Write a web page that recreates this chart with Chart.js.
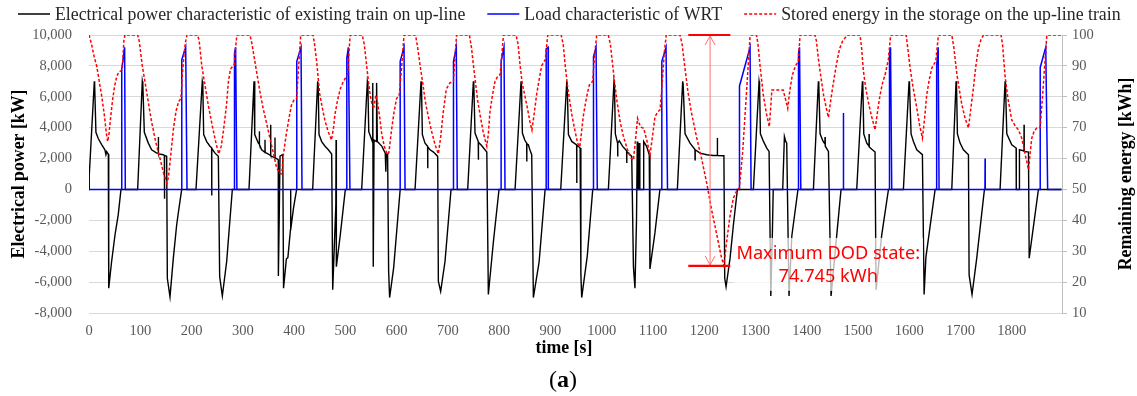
<!DOCTYPE html>
<html>
<head>
<meta charset="utf-8">
<script src="https://cdn.jsdelivr.net/npm/chart.js@4.4.1/dist/chart.umd.min.js"></script>
<style>
  html, body { margin: 0; padding: 0; background: #fff; }
  #wrap { position: relative; width: 1137px; height: 396px; }
  #caption { position: absolute; left: 0; width: 1126px; top: 366px; text-align: center; line-height: 1;
             font: 24px "Liberation Serif", "Times New Roman", serif; color: #000; }
</style>
</head>
<body>
<div id="wrap">
  <canvas id="chart"></canvas>
  <div id="caption">(<b>a</b>)</div>
</div>
<script>
// Up-line train power / WRT load / on-board storage energy over one run

// --- Series: [time s, value] ---
const powerSeries = [
  [0,0],[0.5,900],[10.4,7000],[11,6800],[13.5,3700],[18,3300],[24.7,2900],[31,2570],[33,2250],[34.5,2450],[37,2300],[37.7,2300],[38.5,-6400],[44,-4700],[50.7,-2950],[57,-1650],[62.4,0],
  [94.9,0],[104,7000],[105,6800],[107.9,3700],[115.7,3000],[122.2,2570],[132,2350],[135,2350],[135.3,3400],[135.6,2300],[145,2250],[147,2200],[147.2,-600],[147.5,2200],[151.5,2150],[152.8,-5750],[158,-6950],[164.5,-4450],[171,-2300],[174.3,-1500],[180.8,0],
  [208.7,0],[221,7000],[222,6800],[223.7,3550],[229.6,3100],[236,2800],[239.2,2700],[239.4,-400],[239.6,2650],[245.8,2350],[252.3,2150],[254.9,-5650],[260.1,-6900],[268.6,-4650],[279.6,0],
  [312.1,0],[321.9,7000],[322.8,6800],[323.8,3550],[330.3,3000],[332,2950],[332.3,3760],[332.6,2900],[336.8,2570],[343,2400],[343.3,3220],[343.6,2380],[346.6,2350],[354.2,2200],[354.4,4190],[354.6,2180],[362.6,2050],[362.8,3370],[363,2040],[366.1,1990],[369.2,1920],[369.4,-5600],[371,-2000],[372.6,2150],[377.2,2250],[378,2200],[379.5,-6400],[385,-4500],[388,-4400],[393,-2600],[393.3,0],[393.6,-2600],[399,-1200],[405,0],
  [436.3,0],[446.1,7000],[447,6800],[448.7,3550],[453.9,3100],[460.4,2800],[466.9,2570],[473.4,2290],[475.4,-6500],[481.5,-1000],[482,3200],[482.5,-5000],[490,-3000],[500,0],
  [531.9,0],[543,7000],[544,6800],[545.7,3750],[551.5,3220],[553.3,3050],[553.5,6900],[554.5,-5000],[556,3200],[560.5,3100],[561,6900],[562.5,3100],[571.4,2790],[577.9,2350],[579,1150],[580,2300],[582.5,2290],[584.5,-5300],[586.4,-7000],[594.2,-5100],[607,0],
  [636,0],[647.7,7000],[648.5,6800],[650.3,3550],[655.5,3000],[660.5,2790],[660.7,1380],[661,2750],[665.3,2570],[672,2420],[680.2,2140],[681.5,-5950],[686,-6600],[694.5,-4650],[706.2,0],
  [738.7,0],[749.8,7000],[750.6,6800],[753,3650],[759.3,3110],[759.5,1920],[759.8,3050],[764.5,2890],[776,2420],[779,-6800],[788.8,-3400],[799.8,0],
  [831.1,0],[842.8,7000],[843.6,6800],[845.4,3650],[850,3200],[853.7,3000],[853.9,1810],[854.2,2950],[857,2890],[860,2570],[863.6,2250],[866.8,-7000],[878,-4700],[889.7,0],
  [920.2,0],[932,7000],[932.8,6800],[935.2,3550],[941.7,3110],[951.2,2890],[951.4,410],[951.7,2870],[955,2780],[958,2680],[959.5,-5500],[961.1,-7000],[972,-4300],[982.6,0],
  [1013.1,0],[1024.1,7000],[1025,6800],[1026.7,3600],[1031.1,3000],[1031.3,2140],[1031.6,3000],[1034.5,3150],[1041,2790],[1048.7,2500],[1048.9,1710],[1049.2,2450],[1055.4,2250],[1058.7,2140],[1062,-5000],[1065,-6400],[1068,-2000],[1069.5,3100],[1070.5,0],[1072.5,0],[1073,3000],[1074.5,0],[1081,0],[1082,3100],[1087.7,2790],[1092.9,2250],[1094.2,-5150],[1104,-2800],[1113.7,0],
  [1147.7,0],[1158.1,7000],[1159,6800],[1162.7,3600],[1172.4,3000],[1182,2580],[1182.2,1920],[1182.5,2570],[1191.9,2350],[1204.9,2250],[1217.9,2200],[1225.5,2200],[1225.7,3330],[1226,2200],[1238.5,2180],[1240.1,-5750],[1242.7,-6300],[1250.5,-4450],[1257,-2300],[1264.8,0],
  [1296,0],[1307.1,7000],[1308,6800],[1309.7,3600],[1315.6,3110],[1322.1,2680],[1326.6,2460],[1330,-6900],[1333,-2900],[1334.7,0],
  [1353.2,0],[1356.5,3430],[1359.1,3110],[1361,3000],[1365.5,-6900],[1371,-3000],[1383,0],
  [1413.1,0],[1422.8,7000],[1423.6,6800],[1426.1,3600],[1432,3110],[1435.5,2950],[1435.8,3400],[1436.2,2800],[1442.4,2460],[1447.5,-6900],[1458.6,-2960],[1467,0],
  [1497.6,0],[1508.7,7000],[1509.5,6800],[1511.3,3600],[1517.2,3000],[1521.5,2800],[1521.7,3590],[1522,2750],[1527,2600],[1533.3,2420],[1535.3,-6500],[1546.3,-2960],[1559.5,0],
  [1588.6,0],[1599.7,7000],[1600.5,6800],[1603.6,3600],[1608.2,3110],[1614.7,2570],[1625.7,2250],[1629,-6800],[1632.5,-4400],[1650.5,0],
  [1683,0],[1691.4,7000],[1692.2,6800],[1694,3600],[1699.2,3000],[1705.7,2570],[1715.5,2250],[1716.8,-5530],[1722.5,-6800],[1731.7,-4450],[1746.7,0],
  [1777.2,0],[1787,7000],[1787.8,6800],[1790.3,3600],[1800,2890],[1808.5,2680],[1808.8,0],[1814.5,0],[1815,2570],[1823.8,2500],[1824,4190],[1824.3,2460],[1832.6,2420],[1834,-4450],[1852,0],[1897,0]
];

const wrtSeries = [
  [0,0],[63.7,0],[63.9,7800],[69.5,9200],[70.8,0],
  [180.8,0],[181,8400],[188.6,9200],[191.2,0],
  [283.5,0],[283.8,8800],[286,9200],[288.5,0],
  [405.1,0],[405.3,8300],[413.6,9200],[415.5,0],
  [502.7,0],[502.9,8500],[506,9200],[509,0],
  [606.8,0],[607,8300],[614.5,9200],[616.5,0],
  [710.8,0],[711,8300],[716.5,9200],[718.3,0],
  [803.7,0],[803.9,8300],[809.5,9200],[811.5,0],
  [891.6,0],[891.8,9100],[895.5,9200],[896,0],
  [983.9,0],[984.1,8600],[989.1,9200],[991.5,0],
  [1117.2,0],[1117.4,8300],[1125.6,9200],[1128.5,0],
  [1268.7,0],[1268.9,6700],[1289.5,9200],[1291.5,0],
  [1383.8,0],[1384,8800],[1386,9200],[1388.5,0],
  [1471.3,0],[1471.6,4950],[1471.9,0],
  [1561.3,0],[1561.5,8800],[1563.5,9200],[1565.9,0],
  [1653.3,0],[1653.5,8000],[1656.5,9200],[1658.2,0],
  [1747.7,0],[1748,2000],[1748.3,0],
  [1855.3,0],[1855.5,7900],[1866.3,9200],[1870,0],
  [1897,0]
];

const energySeries = [
  [0,100],[5,97],[10,93],[15,90],[20,85],[25,80],[30,74],[34,68],[36.5,65.5],[39,68],[42,73],[46,79],[50,83.5],[54,86.5],[58,88],[63,88.5],[65,89],[68,98],[70,100],
  [95,100],[98,98],[104,90],[110,84],[116,78],[122,72],[130,65.5],[138.5,60],[146,55],[152,52],[155,54],[160,62],[165,70],[170,75.5],[175,78.5],[179.5,79.5],[182,87],[185,93],[188,97.5],[191,100],
  [212,100],[215,98],[220,90],[226,84],[233,77],[240,71],[247,65.5],[253,61.5],[258,64],[263,70],[268,77],[272,85],[276,89],[283.5,90.5],[286,96],[288.5,100],
  [314,100],[318,97],[322,93],[327,88],[333,82],[340,76],[347,71],[353,66.5],[360,61.5],[366,57],[372,55.3],[376,55],[379,61],[384,67],[389,72],[395,77.4],[400,79],[405,79.5],[409,90],[413,100],
  [437,100],[440,97],[444,91.5],[450,81],[455,76.5],[460,72.5],[466,69],[473,66],[477,70],[480,74.5],[485,79],[490,82.5],[495,84.5],[500,86],[504.5,87.2],[507,94],[509.5,100],
  [533,100],[537,97],[541,91],[545,85],[549,80],[553,77],[556,76.8],[559.5,80.5],[563,78],[567,73.5],[571,68],[576,64],[582,61.3],[585,62],[590,69],[595,75],[600,79.5],[605,80.2],[610,90],[614.5,100],
  [637,100],[641,96],[646,90],[651,84.5],[656,78.5],[662,73.5],[668,69],[675,64.5],[681.5,61.5],[686,67],[691,75],[697,82.5],[704,84.5],[711,85],[714,93],[717,100],
  [742,100],[746,96],[750,90],[754,84.5],[758,79],[763,74],[769,68.5],[776,64],[779,68],[782,75],[787,80.5],[792,85],[797,86.5],[802,87.2],[805,93],[808.5,100],
  [833,100],[837,97],[841,90],[845,84.5],[850,80.5],[855,76.5],[860,72],[864,69.2],[868,74],[873,80.5],[878,85.5],[883,90],[890,92],[893,97],[895,100],
  [921,100],[925,97],[929,90],[933,84],[937,79.5],[942,74],[948,69],[953,65],[957.5,63.8],[961,69],[964,73.5],[968,77.5],[972,81],[976,83.8],[982.5,85],[986,93],[990.4,100],
  [1013,100],[1017,97],[1021,91],[1025,85],[1030,78.5],[1036,72],[1042,67.5],[1050,63],[1058,60],[1062,59.5],[1066,66],[1070,73],[1073,71.5],[1076,70.2],[1082,69.8],[1088,66],[1094.4,61.2],[1099,67],[1104,73.5],[1109,75],[1114,75.8],[1118,84],[1122,94],[1126,100],
  [1153,100],[1157,97],[1162,90],[1168,82],[1175,75],[1185,67],[1195,60],[1205,52],[1215,43],[1225,35],[1233,28.5],[1238.5,25.3],[1243,32],[1250,41],[1257,47.2],[1263.5,49.6],[1268.7,50.5],[1275,62],[1282,80],[1289.5,99.5],[1291,100],
  [1302,100],[1305,97],[1309,90],[1315,81],[1321,75],[1327,70.3],[1330,77],[1332,82.2],[1354,82.2],[1359,79],[1363,76.2],[1367,82],[1372,87],[1378,90],[1383.8,91.5],[1387,100],
  [1416,100],[1419,98],[1423,92],[1428,86],[1433,80.5],[1438,76.5],[1442.4,73.3],[1447,79],[1452,84.5],[1458,90.5],[1464,95.5],[1470,98],[1478,99.8],[1480,100],
  [1504,100],[1507,96],[1510.5,88.5],[1515,83],[1520,78.5],[1526,74],[1533.3,69.3],[1538,75],[1543,80.5],[1548,84.5],[1553,87.2],[1559.3,92],[1563.8,100],
  [1594,100],[1597,96],[1601.6,89.5],[1607,83.5],[1614.6,76.5],[1620,71],[1625.7,66.6],[1630,73],[1634,80.5],[1639,85.5],[1644,89.3],[1651.7,91.5],[1657,100],
  [1683,100],[1687,96],[1692.8,87.5],[1698,82],[1702.6,77.5],[1709,73],[1715.6,69.9],[1720,76],[1725.3,83],[1730,90],[1735,95.8],[1740,98.5],[1745,100],
  [1779,100],[1782,97],[1787,86.5],[1793,79],[1800,72.5],[1807,70.5],[1813,69.3],[1819.5,66.6],[1826,61.5],[1832.6,56.4],[1836,62],[1839,66.6],[1844,69],[1849,69.9],[1855.4,70],[1860,80],[1865,92],[1868.4,100],[1897,100]
];

const timeTicks = [0,100,200,300,400,500,600,700,800,900,1000,1100,1200,1300,1400,1500,1600,1700,1800];

const legendLabels = [
  'Electrical power characteristic of existing train on up-line',
  'Load characteristic of WRT',
  'Stored energy in the storage on the up-line train'
];

// DOD annotation (time / kW)
const dodTime = 1211.5;
const dodTop = 10000;
const dodBottom = -4950;
const dodCapFrom = 1169;
const dodCapTo = 1251;
const dodTextTime = 1442;
const dodTextLines = ['Maximum DOD state:', '74.745 kWh'];

const SERIF = '"Liberation Serif", "Times New Roman", serif';
const toXY = s => s.map(([x, y]) => ({ x, y }));

const colors = {
  power: '#000000',
  wrt: '#0000ff',
  energy: '#ff0000',
  grid: '#d9d9d9',
  tick: '#595959'
};

// legend row across the top, drawn by hand so the spacing matches
const legendPlugin = {
  id: 'topLegend',
  afterDraw(chart) {
    const ctx = chart.ctx;
    const styles = [
      { color: colors.power, dash: [] },
      { color: colors.wrt, dash: [] },
      { color: colors.energy, dash: [3, 2] }
    ];
    ctx.save();
    ctx.font = '17.8px ' + SERIF;
    ctx.textBaseline = 'middle';
    let x = 18;
    const y = 14;
    legendLabels.forEach((label, i) => {
      ctx.strokeStyle = styles[i].color;
      ctx.lineWidth = 1.5;
      ctx.setLineDash(styles[i].dash);
      ctx.beginPath();
      ctx.moveTo(x, y);
      ctx.lineTo(x + 32, y);
      ctx.stroke();
      ctx.setLineDash([]);
      ctx.fillStyle = '#262626';
      ctx.fillText(label, x + 37, y + 1);
      x += 37 + ctx.measureText(label).width + 22;
    });
    ctx.restore();
  }
};

// red double arrow + DOD note
const dodPlugin = {
  id: 'dodNote',
  afterDatasetsDraw(chart) {
    const { ctx, scales } = chart;
    const xs = scales.x, ys = scales.y;
    const ax = xs.getPixelForValue(dodTime);
    const yTop = ys.getPixelForValue(dodTop);
    const yBot = ys.getPixelForValue(dodBottom);
    const c1 = xs.getPixelForValue(dodCapFrom);
    const c2 = xs.getPixelForValue(dodCapTo);
    ctx.save();
    // shaft
    ctx.strokeStyle = '#ff7070';
    ctx.lineWidth = 1;
    ctx.beginPath();
    ctx.moveTo(ax, yTop);
    ctx.lineTo(ax, yBot);
    ctx.moveTo(ax - 5, yTop + 10); ctx.lineTo(ax, yTop + 1); ctx.lineTo(ax + 5, yTop + 10);
    ctx.moveTo(ax - 5, yBot - 10); ctx.lineTo(ax, yBot - 1); ctx.lineTo(ax + 5, yBot - 10);
    ctx.stroke();
    // caps
    ctx.strokeStyle = '#ff0000';
    ctx.lineWidth = 2.2;
    ctx.beginPath();
    ctx.moveTo(c1, yTop); ctx.lineTo(c2, yTop);
    ctx.moveTo(c1, yBot); ctx.lineTo(c2, yBot);
    ctx.stroke();

    // text with a pale box behind it
    ctx.font = '18.2px "Noto Sans", "DejaVu Sans", sans-serif';
    const tx = xs.getPixelForValue(dodTextTime);
    const l1 = yBot - 12, l2 = yBot + 11;
    const w = Math.max(...dodTextLines.map(t => ctx.measureText(t).width));
    ctx.fillStyle = 'rgba(255,255,255,0.72)';
    ctx.fillRect(tx - w / 2 - 3, l1 - 16, w + 6, (l2 - l1) + 30);
    ctx.fillStyle = '#ff0000';
    ctx.textAlign = 'center';
    ctx.textBaseline = 'middle';
    ctx.fillText(dodTextLines[0], tx, l1);
    ctx.fillText(dodTextLines[1], tx, l2);
    ctx.restore();
  }
};

// axis titles drawn by hand: right one reads bottom-to-top, x one sits a bit left of centre
const titlesPlugin = {
  id: 'axisTitles',
  afterDraw(chart) {
    const { ctx, chartArea } = chart;
    ctx.save();
    ctx.font = 'bold 17.8px ' + SERIF;
    ctx.fillStyle = '#000';
    ctx.textAlign = 'center';
    ctx.textBaseline = 'middle';
    ctx.fillText('time [s]', 564, 348);
    ctx.translate(1126, (chartArea.top + chartArea.bottom) / 2);
    ctx.rotate(-Math.PI / 2);
    ctx.fillText('Remaining energy [kWh]', 0, 0);
    ctx.restore();
  }
};

new Chart(document.getElementById('chart'), {
  type: 'line',
  data: {
    datasets: [
      {
        label: legendLabels[2],
        data: toXY(energySeries),
        yAxisID: 'y2',
        borderColor: colors.energy,
        borderWidth: 1.5,
        borderDash: [3, 2],
        pointRadius: 0,
        tension: 0,
        order: 0
      },
      {
        label: legendLabels[1],
        data: toXY(wrtSeries),
        yAxisID: 'y',
        borderColor: colors.wrt,
        borderWidth: 1.5,
        pointRadius: 0,
        tension: 0,
        order: 1
      },
      {
        label: legendLabels[0],
        data: toXY(powerSeries),
        yAxisID: 'y',
        borderColor: colors.power,
        borderWidth: 1.4,
        pointRadius: 0,
        tension: 0,
        order: 2
      }
    ]
  },
  options: {
    responsive: true,
    maintainAspectRatio: false,
    animation: false,
    events: [],
    layout: { padding: { top: 35, bottom: 38, left: 0, right: 0 } },
    plugins: {
      legend: { display: false },
      tooltip: { enabled: false }
    },
    scales: {
      x: {
        type: 'linear',
        min: 0,
        max: 1898,
        afterFit: s => { s.height = 45; },
        afterBuildTicks: s => { s.ticks = timeTicks.map(v => ({ value: v })); },
        ticks: {
          autoSkip: false,
          color: colors.tick,
          font: { family: SERIF, size: 14.5 },
          padding: 9,
          maxRotation: 0,
          callback: v => String(v)
        },
        grid: { display: false, drawTicks: false },
        border: { display: false }
      },
      y: {
        position: 'left',
        min: -8000,
        max: 10000,
        afterFit: s => { s.width = 89; },
        ticks: {
          stepSize: 2000,
          color: colors.tick,
          font: { family: SERIF, size: 14.5 },
          padding: 17,
          callback: v => v.toLocaleString('en-US')
        },
        grid: { color: colors.grid, lineWidth: 1, drawTicks: false },
        border: { display: false },
        title: {
          display: true,
          text: 'Electrical power [kW]',
          color: '#000',
          font: { family: SERIF, size: 17.8, weight: 'bold' },
          padding: { top: 9, bottom: 0 }
        }
      },
      y2: {
        position: 'right',
        min: 10,
        max: 100,
        afterFit: s => { s.width = 75; },
        ticks: {
          stepSize: 10,
          color: colors.tick,
          font: { family: SERIF, size: 14.5 },
          padding: 5
        },
        grid: { drawOnChartArea: false, color: '#bfbfbf', tickLength: 5 },
        border: { display: true, color: '#bfbfbf' }
      }
    }
  },
  plugins: [legendPlugin, dodPlugin, titlesPlugin]
});
</script>
</body>
</html>
